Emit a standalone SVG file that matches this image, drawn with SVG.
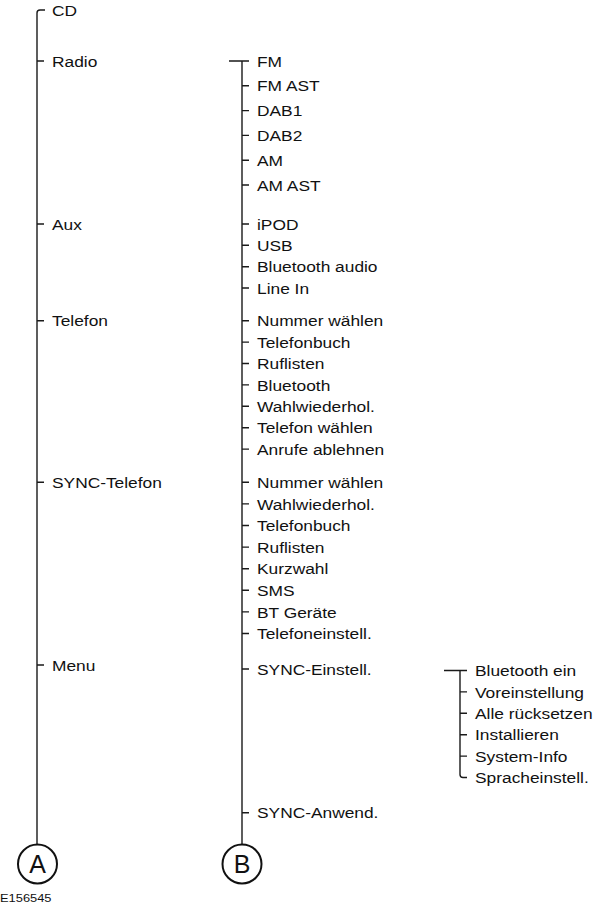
<svg xmlns="http://www.w3.org/2000/svg" width="600" height="907" viewBox="0 0 600 907">
<style>
.t{font-family:"Liberation Sans",Arial,sans-serif;font-size:15.5px;fill:#111}
.c{font-family:"Liberation Sans",Arial,sans-serif;font-size:25px;fill:#111;text-anchor:middle}
.f{font-family:"Liberation Sans",Arial,sans-serif;font-size:11.5px;fill:#111}
.ln{fill:none;stroke:#1a1a1a;stroke-width:1.4}
.circ{fill:#fff;stroke:#111;stroke-width:2}
</style>
<rect width="600" height="907" fill="#fff"/>
<g id="connectors" class="ln">
<path d="M45,10 H40 Q37,10 37,13 V844.5"/>
<path d="M37,61 H44 M37,224 H44 M37,320.7 H44 M37,482.3 H44 M37,665 H44"/>
<path d="M229,61 H249 M242,61 V844.5"/>
<path d="M242,85.8 H249 M242,110.6 H249 M242,135.4 H249 M242,160.2 H249 M242,185 H249"/>
<path d="M242,224 H249 M242,245.3 H249 M242,266.7 H249 M242,288 H249"/>
<path d="M242,320.7 H249 M242,342.1 H249 M242,363.5 H249 M242,384.9 H249 M242,406.3 H249 M242,427.7 H249 M242,449.1 H249"/>
<path d="M242,482.3 H249 M242,503.9 H249 M242,525.5 H249 M242,547.1 H249 M242,568.7 H249 M242,590.3 H249 M242,611.9 H249 M242,633.5 H249"/>
<path d="M242,669 H249 M242,812.7 H249"/>
<path d="M444,670.5 H467 M460,670.5 V774.5 Q460,777.5 463,777.5 H467"/>
<path d="M460,691.9 H467 M460,713.3 H467 M460,734.7 H467 M460,756.1 H467"/>
</g>
<g id="colA">
<g id="n-cd"><text class="t" transform="translate(52,15.6) scale(1.12,1)">CD</text></g>
<g id="n-radio"><text class="t" transform="translate(52,66.6) scale(1.12,1)">Radio</text></g>
<g id="n-aux"><text class="t" transform="translate(52,229.6) scale(1.12,1)">Aux</text></g>
<g id="n-telefon"><text class="t" transform="translate(52,326.3) scale(1.12,1)">Telefon</text></g>
<g id="n-synctel"><text class="t" transform="translate(52,487.9) scale(1.12,1)">SYNC-Telefon</text></g>
<g id="n-menu"><text class="t" transform="translate(52,670.6) scale(1.12,1)">Menu</text></g>
</g>
<g id="colB">
<g id="n-fm"><text class="t" transform="translate(257,66.6) scale(1.12,1)">FM</text></g>
<g id="n-fmast"><text class="t" transform="translate(257,91.4) scale(1.12,1)">FM AST</text></g>
<g id="n-dab1"><text class="t" transform="translate(257,116.2) scale(1.12,1)">DAB1</text></g>
<g id="n-dab2"><text class="t" transform="translate(257,141) scale(1.12,1)">DAB2</text></g>
<g id="n-am"><text class="t" transform="translate(257,165.8) scale(1.12,1)">AM</text></g>
<g id="n-amast"><text class="t" transform="translate(257,190.6) scale(1.12,1)">AM AST</text></g>
<g id="n-ipod"><text class="t" transform="translate(257,229.6) scale(1.12,1)">iPOD</text></g>
<g id="n-usb"><text class="t" transform="translate(257,250.9) scale(1.12,1)">USB</text></g>
<g id="n-btaudio"><text class="t" transform="translate(257,272.3) scale(1.12,1)">Bluetooth audio</text></g>
<g id="n-linein"><text class="t" transform="translate(257,293.6) scale(1.12,1)">Line In</text></g>
<g id="n-t1"><text class="t" transform="translate(257,326.3) scale(1.12,1)">Nummer wählen</text></g>
<g id="n-t2"><text class="t" transform="translate(257,347.7) scale(1.12,1)">Telefonbuch</text></g>
<g id="n-t3"><text class="t" transform="translate(257,369.1) scale(1.12,1)">Ruflisten</text></g>
<g id="n-t4"><text class="t" transform="translate(257,390.5) scale(1.12,1)">Bluetooth</text></g>
<g id="n-t5"><text class="t" transform="translate(257,411.9) scale(1.12,1)">Wahlwiederhol.</text></g>
<g id="n-t6"><text class="t" transform="translate(257,433.3) scale(1.12,1)">Telefon wählen</text></g>
<g id="n-t7"><text class="t" transform="translate(257,454.7) scale(1.12,1)">Anrufe ablehnen</text></g>
<g id="n-s1"><text class="t" transform="translate(257,487.9) scale(1.12,1)">Nummer wählen</text></g>
<g id="n-s2"><text class="t" transform="translate(257,509.5) scale(1.12,1)">Wahlwiederhol.</text></g>
<g id="n-s3"><text class="t" transform="translate(257,531.1) scale(1.12,1)">Telefonbuch</text></g>
<g id="n-s4"><text class="t" transform="translate(257,552.7) scale(1.12,1)">Ruflisten</text></g>
<g id="n-s5"><text class="t" transform="translate(257,574.3) scale(1.12,1)">Kurzwahl</text></g>
<g id="n-s6"><text class="t" transform="translate(257,595.9) scale(1.12,1)">SMS</text></g>
<g id="n-s7"><text class="t" transform="translate(257,617.5) scale(1.12,1)">BT Geräte</text></g>
<g id="n-s8"><text class="t" transform="translate(257,639.1) scale(1.12,1)">Telefoneinstell.</text></g>
<g id="n-m1"><text class="t" transform="translate(257,674.6) scale(1.12,1)">SYNC-Einstell.</text></g>
<g id="n-m2"><text class="t" transform="translate(257,818.3) scale(1.12,1)">SYNC-Anwend.</text></g>
</g>
<g id="colC">
<g id="n-c1"><text class="t" transform="translate(475,676.1) scale(1.12,1)">Bluetooth ein</text></g>
<g id="n-c2"><text class="t" transform="translate(475,697.5) scale(1.12,1)">Voreinstellung</text></g>
<g id="n-c3"><text class="t" transform="translate(475,718.9) scale(1.12,1)">Alle rücksetzen</text></g>
<g id="n-c4"><text class="t" transform="translate(475,740.3) scale(1.12,1)">Installieren</text></g>
<g id="n-c5"><text class="t" transform="translate(475,761.7) scale(1.12,1)">System-Info</text></g>
<g id="n-c6"><text class="t" transform="translate(475,783.1) scale(1.12,1)">Spracheinstell.</text></g>
</g>
<g id="node-A"><circle class="circ" cx="37.5" cy="864" r="19.5"/><text class="c" x="37.5" y="873">A</text></g>
<g id="node-B"><circle class="circ" cx="242" cy="864" r="19.5"/><text class="c" x="242" y="873">B</text></g>
<g id="figid"><text class="f" transform="translate(0,902) scale(1.12,1)">E156545</text></g>
</svg>
